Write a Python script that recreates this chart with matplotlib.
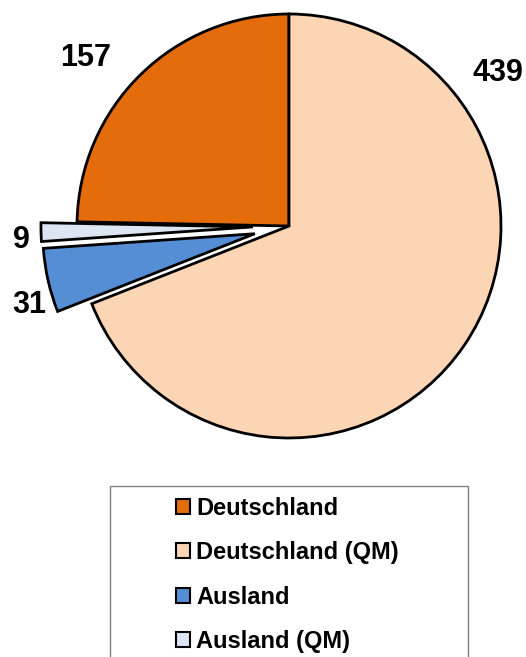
import matplotlib
matplotlib.use("Agg")
import matplotlib.pyplot as plt
import matplotlib.patches as patches

# data
labels = ["Deutschland", "Deutschland (QM)", "Ausland", "Ausland (QM)"]
values = [157, 439, 31, 9]
colors = ["#E46C0A", "#FCD5B5", "#558ED5", "#DCE6F2"]
explode = [0, 0, 0.165, 0.17]

# where the value labels sit (data units, pie radius = 1)
label_pos = [(-0.958, 0.792), (0.986, 0.722), (-1.226, -0.373), (-1.264, -0.066)]

plt.rcParams["font.family"] = ["Liberation Sans", "DejaVu Sans"]
plt.rcParams["font.weight"] = "bold"

W, H = 526, 657
fig = plt.figure(figsize=(W / 100, H / 100), dpi=100)

# pie centre and radius in pixels
cx, cy, R = 289, 226, 212
lim = 1.2
side = 2 * R * lim
ax = fig.add_axes([(cx - side / 2) / W, (H - cy - side / 2) / H, side / W, side / H])

start = 90 + values[0] / sum(values) * 360
wedges, _ = ax.pie(values, colors=colors, explode=explode, startangle=start,
                   counterclock=False, radius=1,
                   wedgeprops=dict(edgecolor="black", linewidth=2))
ax.set_xlim(-lim, lim)
ax.set_ylim(-lim, lim)
ax.set_aspect("equal")
ax.axis("off")

for v, (x, y) in zip(values, label_pos):
    ax.text(x, y, str(v), fontsize=22, fontweight="bold", ha="center", va="center",
            clip_on=False)

# legend frame (runs off the bottom of the image)
frame = patches.Rectangle((110 / W, -0.05), 358 / W, 1 - 486 / H + 0.05,
                          transform=fig.transFigure, facecolor="white",
                          edgecolor="#808080", linewidth=1, zorder=0)
fig.patches.append(frame)

handles = [patches.Patch(facecolor=c, edgecolor="black", linewidth=1.5) for c in colors]
fig.legend(handles, labels, loc="upper left", bbox_to_anchor=(176 / W, 1 - 497 / H),
           frameon=False, prop=dict(weight="bold", size=17),
           handlelength=0.6, handleheight=0.6, handletextpad=0.25,
           labelspacing=0.9, borderpad=0, borderaxespad=0)

fig.savefig("out.png", dpi=100)
